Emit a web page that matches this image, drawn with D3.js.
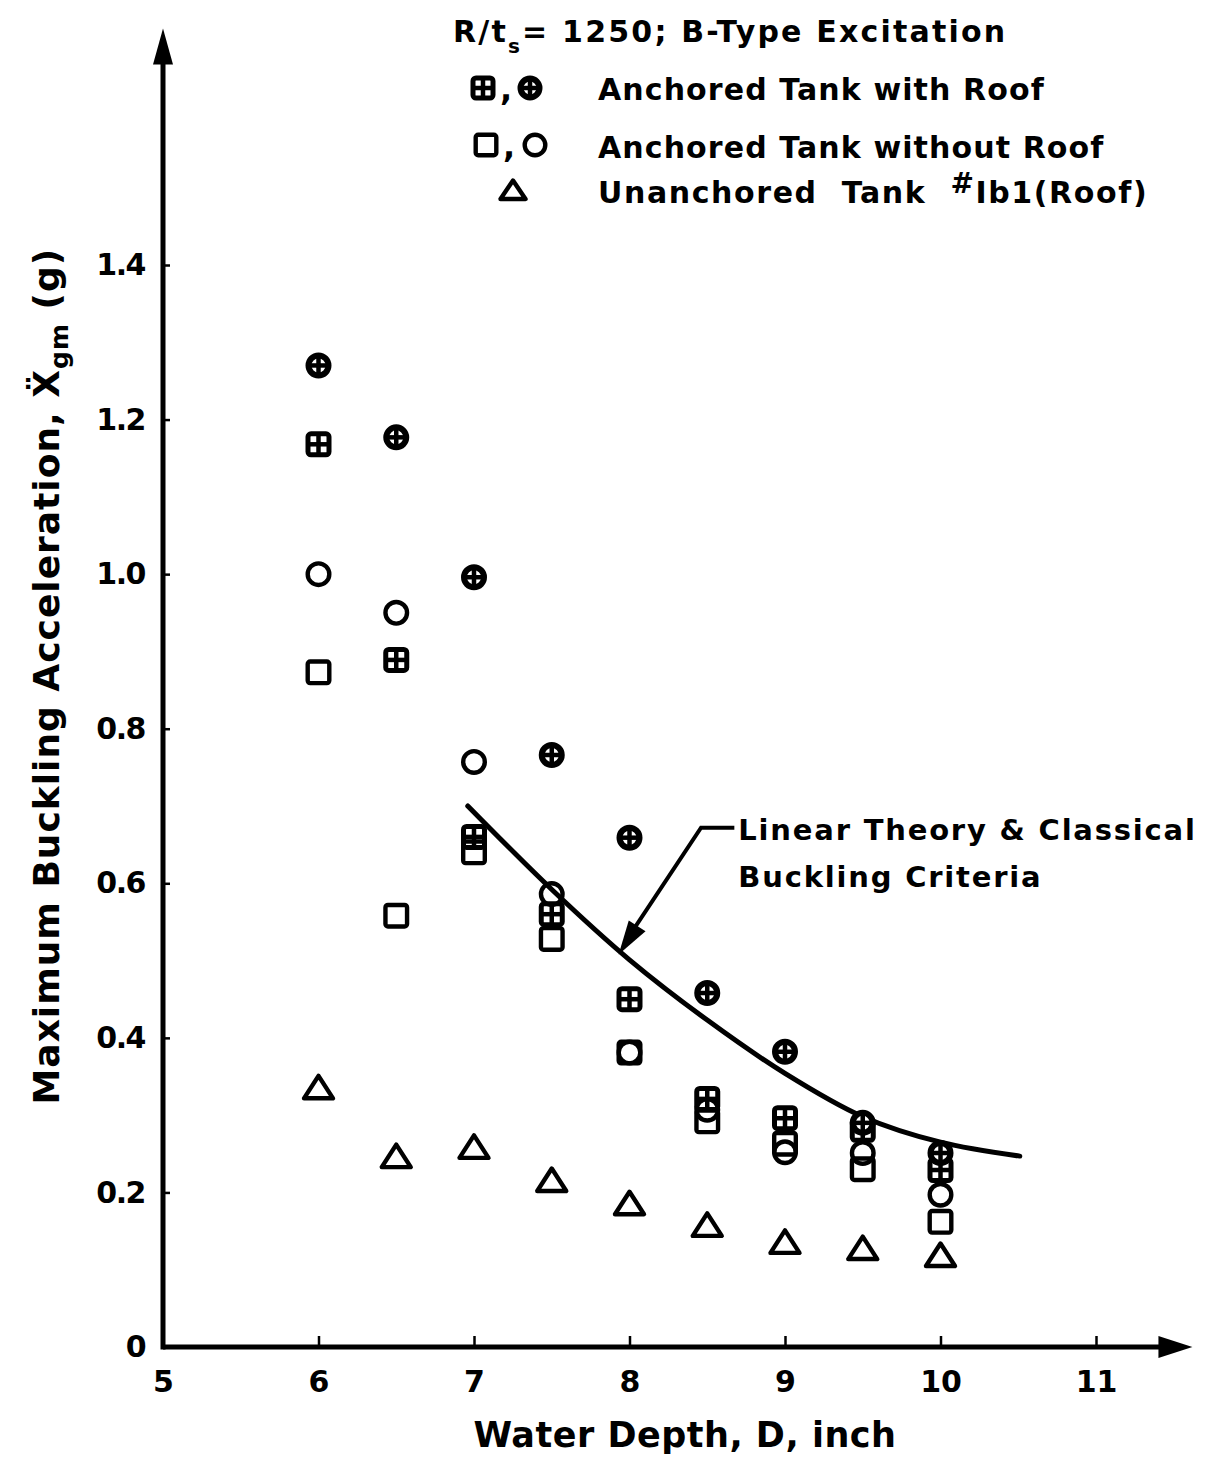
<!DOCTYPE html>
<html><head><meta charset="utf-8">
<script src="https://cdn.jsdelivr.net/npm/d3@7"></script>
<style>
body{margin:0;background:#fff}
svg{display:block}
text{font-family:"DejaVu Sans",sans-serif;fill:#000}
</style>
</head><body>
<svg id="c" width="1206" height="1459"></svg>
<script>
// ---- data ----
const depth = [6, 6.5, 7, 7.5, 8, 8.5, 9, 9.5, 10];
const roofCircle   = [1.270, 1.177, 0.996, 0.766, 0.659, 0.458, 0.382, 0.290, 0.251]; // ⊕ anchored with roof
const roofSquare   = [1.168, 0.889, 0.660, 0.560, 0.450, 0.321, 0.296, 0.281, 0.229]; // ⊞ anchored with roof
const noRoofCircle = [1.000, 0.950, 0.757, 0.586, 0.381, 0.307, 0.252, 0.251, 0.197]; // ○ anchored without roof
const noRoofSquare = [0.873, 0.558, 0.640, 0.528, 0.381, 0.292, 0.263, 0.230, 0.162]; // □ anchored without roof
const unanchored   = [0.336, 0.247, 0.259, 0.216, 0.186, 0.158, 0.136, 0.128, 0.119]; // △ unanchored #Ib1
const theoryDepth  = [6.96, 7.5, 8.0, 8.5, 9.0, 9.5, 10.0, 10.51];
const theoryAccel  = [0.700, 0.592, 0.501, 0.423, 0.354, 0.298, 0.265, 0.247];
const xTicks = [5, 6, 7, 8, 9, 10, 11];
const xTickLabels = ["5", "6", "7", "8", "9", "10", "11"];
const yTicks = [0, 0.2, 0.4, 0.6, 0.8, 1.0, 1.2, 1.4];
const yTickLabels = ["0", "0.2", "0.4", "0.6", "0.8", "1.0", "1.2", "1.4"];

// ---- layout ----
const svg = d3.select("#c");
const x = d3.scaleLinear().domain([5, 11]).range([163, 1096]);
const y = d3.scaleLinear().domain([0, 1.4]).range([1347, 265]);
const xEnd = 11.62, yEnd = 1.706;

// axes (ticks + labels)
const gx = svg.append("g").attr("transform", `translate(0,${y(0)})`)
  .call(d3.axisBottom(x).tickValues(xTicks).tickSize(-11).tickPadding(24)
        .tickFormat((d, i) => xTickLabels[i]));
const gy = svg.append("g").attr("transform", `translate(${x(5)},0)`)
  .call(d3.axisLeft(y).tickValues(yTicks).tickSize(-7).tickPadding(18)
        .tickFormat((d, i) => yTickLabels[i]));
[gx, gy].forEach(g => {
  g.select(".domain").remove();
  g.selectAll(".tick line").attr("stroke", "#000").attr("stroke-width", 2.5);
  g.selectAll(".tick text").attr("font-size", 30).attr("font-family", "DejaVu Sans")
    .attr("fill", "#000").attr("font-weight", "bold");
});
gy.selectAll(".tick text").attr("letter-spacing", -1.5);
gx.selectAll(".tick").filter(d => d === 5).select("line").remove();

// axis lines with arrowheads
svg.append("line").attr("x1", x(5)).attr("x2", x(xEnd) - 20).attr("y1", y(0)).attr("y2", y(0))
  .attr("stroke", "#000").attr("stroke-width", 5);
svg.append("path").attr("d", `M${x(xEnd)},${y(0)} L${x(xEnd) - 34},${y(0) - 11} L${x(xEnd) - 34},${y(0) + 11} Z`).attr("fill", "#000");
svg.append("line").attr("x1", x(5)).attr("x2", x(5)).attr("y1", y(0) + 2.5).attr("y2", y(yEnd) + 20)
  .attr("stroke", "#000").attr("stroke-width", 5);
svg.append("path").attr("d", `M${x(5)},${y(yEnd)} L${x(5) - 10},${y(yEnd) + 36} L${x(5) + 10},${y(yEnd) + 36} Z`).attr("fill", "#000");

// axis titles
svg.append("text").attr("x", 685).attr("y", 1447).attr("text-anchor", "middle")
  .attr("font-size", 35).attr("font-weight", "bold").attr("letter-spacing", 0.5).text("Water Depth, D, inch");
const yl = svg.append("text").attr("transform", `translate(59,${y(0.868)}) rotate(-90)`)
  .attr("text-anchor", "middle").attr("font-size", 36).attr("font-weight", "bold").attr("letter-spacing", 1);
yl.append("tspan").text("Maximum Buckling Acceleration, X\u0308");
yl.append("tspan").attr("font-size", 25).attr("dy", 9).text("gm");
yl.append("tspan").attr("dy", -9).text(" (g)");

// ---- marker symbols ----
const S = 13; // half size
function drawMarker(g, type, cx, cy, s) {
  const k = (s || S);
  const m = g.append("g").attr("transform", `translate(${cx},${cy})`)
    .attr("fill", "none").attr("stroke", "#000");
  if (type === "plusCircle") {
    m.append("circle").attr("r", k - 3).attr("stroke-width", 6).attr("fill", "#fff");
    m.append("line").attr("x1", -k + 1).attr("x2", k - 1).attr("stroke-width", 4.5);
    m.append("line").attr("y1", -k + 1).attr("y2", k - 1).attr("stroke-width", 4.5);
  } else if (type === "plusSquare") {
    m.append("rect").attr("x", -k + 2.5).attr("y", -k + 2.5).attr("width", 2 * k - 5).attr("height", 2 * k - 5)
      .attr("rx", 3).attr("stroke-width", 5);
    m.append("line").attr("x1", -k + 2).attr("x2", k - 2).attr("stroke-width", 4.5);
    m.append("line").attr("y1", -k + 2).attr("y2", k - 2).attr("stroke-width", 4.5);
  } else if (type === "square") {
    m.append("rect").attr("x", -k + 2.2).attr("y", -k + 2.2).attr("width", 2 * k - 4.4).attr("height", 2 * k - 4.4)
      .attr("rx", 2.5).attr("stroke-width", 4.4);
  } else if (type === "circle") {
    m.append("circle").attr("r", k - 2.2).attr("stroke-width", 4.4);
  } else if (type === "triangle") {
    m.append("path").attr("d", `M0,${-k + 1.5} L${k + 1.5},${k - 2} L${-k - 1.5},${k - 2} Z`)
      .attr("stroke-width", 4.4).attr("stroke-linejoin", "round");
  }
  return m;
}

// ---- theory curve ----
const curveData = theoryDepth.map((d, i) => [d, theoryAccel[i]]);
svg.append("path").datum(curveData)
  .attr("d", d3.line().x(d => x(d[0])).y(d => y(d[1])).curve(d3.curveCatmullRom.alpha(0.5)))
  .attr("fill", "none").attr("stroke", "#000").attr("stroke-width", 5).attr("stroke-linecap", "round");

// ---- data points ----
const series = [
  { values: roofSquare, type: "plusSquare" },
  { values: noRoofSquare, type: "square" },
  { values: noRoofCircle, type: "circle" },
  { values: roofCircle, type: "plusCircle" },
  { values: unanchored, type: "triangle" }
];
const gp = svg.append("g");
series.forEach(s => depth.forEach((d, i) => drawMarker(gp, s.type, x(d), y(s.values[i]))));

// ---- annotation ----
const noteText = [8.70, 0.665];
const noteCorner = [8.46, 0.672];
const noteTip = [7.93, 0.508];
const tx = x(noteTip[0]), ty = y(noteTip[1]);
svg.append("path").attr("d", `M${x(noteText[0]) - 4},${y(noteCorner[1])} L${x(noteCorner[0])},${y(noteCorner[1])} L${tx + 9},${ty - 16}`)
  .attr("fill", "none").attr("stroke", "#000").attr("stroke-width", 4);
{
  const ang = Math.atan2(ty - y(noteCorner[1]), tx - x(noteCorner[0]));
  const L = 34, Wd = 10;
  const bx = tx - L * Math.cos(ang), by = ty - L * Math.sin(ang);
  const px = -Math.sin(ang) * Wd, py = Math.cos(ang) * Wd;
  svg.append("path").attr("d", `M${tx},${ty} L${bx + px},${by + py} L${bx - px},${by - py} Z`).attr("fill", "#000");
}
svg.append("text").attr("x", x(noteText[0])).attr("y", 840).attr("font-size", 29).attr("font-weight", "bold")
  .attr("letter-spacing", 1.8).text("Linear Theory & Classical");
svg.append("text").attr("x", x(noteText[0])).attr("y", 887).attr("font-size", 29).attr("font-weight", "bold")
  .attr("letter-spacing", 1.8).text("Buckling Criteria");

// ---- legend ----
const lg = svg.append("g");
const t0 = lg.append("text").attr("x", 453).attr("y", 42).attr("font-size", 30).attr("font-weight", "bold").attr("letter-spacing", 2.2);
t0.append("tspan").text("R/t");
t0.append("tspan").attr("font-size", 20).attr("dy", 11).text("s");
t0.append("tspan").attr("dy", -11).text("= 1250; B-Type Excitation");

drawMarker(lg, "plusSquare", 483, 88, 12.5);
lg.append("text").attr("x", 500).attr("y", 100).attr("font-size", 32).attr("font-weight", "bold").text(",");
drawMarker(lg, "plusCircle", 530, 88, 12.5);
lg.append("text").attr("x", 598).attr("y", 100).attr("font-size", 30).attr("font-weight", "bold").attr("letter-spacing", 1.1).text("Anchored Tank with Roof");

drawMarker(lg, "square", 486, 145, 12.5);
lg.append("text").attr("x", 503).attr("y", 157).attr("font-size", 32).attr("font-weight", "bold").text(",");
drawMarker(lg, "circle", 535, 145, 12.5);
lg.append("text").attr("x", 598).attr("y", 158).attr("font-size", 30).attr("font-weight", "bold").attr("letter-spacing", 1.1).text("Anchored Tank without Roof");

drawMarker(lg, "triangle", 513, 190, 11);
const t3 = lg.append("text").attr("x", 598).attr("y", 203).attr("font-size", 30).attr("font-weight", "bold").attr("letter-spacing", 1.6)
  .attr("xml:space", "preserve").style("white-space", "pre");
t3.append("tspan").text("Unanchored  Tank  ");
t3.append("tspan").attr("dy", -10).attr("font-size", 28).text("#");
t3.append("tspan").attr("dy", 10).text("Ib1(Roof)");
</script>
</body></html>
